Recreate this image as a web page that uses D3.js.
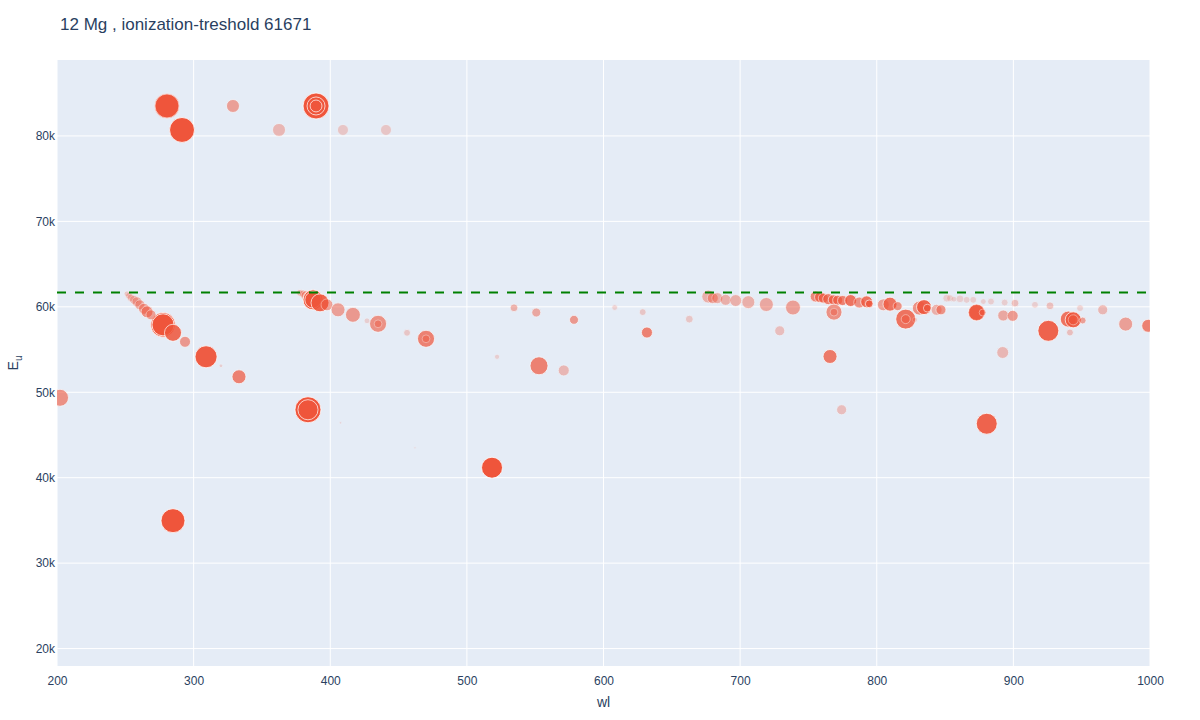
<!DOCTYPE html>
<html>
<head>
<meta charset="utf-8">
<script src="https://cdn.jsdelivr.net/npm/d3@7"></script>
<style>
  body { margin: 0; background: #fff; }
  text { font-family: "Liberation Sans", Arial, sans-serif; }
</style>
</head>
<body>
<svg id="chart" width="1200" height="720"></svg>
<script>
// lines: wavelength, upper level energy, strength, weight
var wl = [
  280.5, 280.5, 291.5, 328.8, 362.5, 389.6, 389.6, 389.6, 409.3, 440.8,
  202.2, 284.9, 277.6, 277.6, 284.9, 293.7, 309.1, 320.0, 333.2,
  251.2, 252.7, 254.2, 256.4, 258.6, 260.7, 263.7, 265.9, 268.8,
  383.7, 383.7, 407.5, 462.0,
  377.9, 380.1, 382.3, 385.2, 387.4, 387.4, 392.5, 397.6, 405.7, 416.6, 426.9, 435.0, 435.0, 456.2, 470.1, 470.1,
  534.5, 550.8, 578.4, 522.1, 552.8, 570.9, 608.2, 628.7, 631.8, 662.8, 518.4,
  676.7, 680.0, 683.3, 689.4, 696.8, 706.0, 719.2, 738.7, 729.0,
  755.3, 758.5, 760.9, 764.5, 768.2, 771.4, 775.0, 780.9, 787.2, 792.6, 794.5,
  768.7, 768.7, 765.8, 774.3,
  804.8, 809.7, 815.3, 821.2, 821.2, 828.0, 831.2, 834.6, 837.0, 843.8, 847.0,
  851.2, 853.6, 856.5, 860.9, 865.8, 870.6, 873.1, 873.1, 877.5, 878.0, 883.6, 880.5,
  892.2, 892.6, 899.5, 893.6, 901.2, 915.8, 926.8, 925.6, 941.4, 940.2, 943.8, 943.8, 950.7, 948.8,
  965.4, 982.2, 998.7
];
var eu = [
  83509, 83509, 80702, 83509, 80702, 83509, 83509, 83509, 80702, 80702,
  49356, 34970, 57894, 57894, 56959, 55906, 54152, 53100, 51813,
  61520, 61286, 61052, 60818, 60584, 60233, 59766, 59415, 59064,
  47953, 47953, 46430, 43500,
  61637, 61520, 61286, 61052, 60818, 60818, 60467, 60233, 59649, 59064, 58362, 58011, 58011, 56959, 56257, 56257,
  59883, 59333, 58479, 54152, 53100, 52555, 59918, 59380, 56994, 58561, 41170,
  61204, 61017, 61017, 60818, 60736, 60549, 60269, 59918, 57193,
  61204, 61134, 61017, 60900, 60818, 60780, 60736, 60736, 60502, 60585, 60350,
  59380, 59380, 54187, 47953,
  60233, 60315, 60081, 58561, 58561, 58479, 59848, 59964, 59848, 59649, 59649,
  61017, 61017, 60900, 60935, 60818, 60818, 59333, 59333, 59333, 60619, 60619, 46315,
  54655, 58982, 58947, 60502, 60432, 60233, 60117, 57193, 56994, 58561, 58479, 58479, 58401, 59848,
  59649, 57977, 57778
];
var strength = [
  85, 100, 92, 25, 25, 100, 48, 21, 18, 18,
  43, 85, 90, 72, 43, 18, 72, 2, 29,
  5, 7, 9, 12, 15, 15, 18, 21, 15,
  100, 60, 1, 1,
  7, 9, 15, 29, 59, 40, 48, 21, 29, 33, 5, 43, 9, 7, 43, 9,
  9, 12, 12, 4, 48, 18, 5, 7, 18, 9, 65,
  25, 18, 18, 18, 21, 25, 29, 33, 15,
  18, 18, 15, 18, 15, 15, 15, 21, 18, 21, 9,
  38, 9, 29, 15,
  21, 29, 12, 59, 12, 4, 29, 33, 9, 18, 15,
  9, 7, 5, 9, 7, 7, 38, 43, 7, 5, 7, 65,
  21, 18, 18, 7, 9, 7, 9, 65, 7, 38, 38, 15, 7, 7,
  15, 29, 25
];
var weight = [
  1, 0.25, 1, 0.5, 0.35, 1, 0.9, 0.9, 0.25, 0.25,
  0.6, 1, 1, 1, 0.85, 0.55, 0.95, 0.2, 0.7,
  0.25, 0.3, 0.3, 0.35, 0.4, 0.45, 0.5, 0.6, 0.5,
  1, 0.9, 0.15, 0.1,
  0.35, 0.4, 0.5, 0.7, 1, 0.9, 0.9, 0.5, 0.5, 0.55, 0.2, 0.6, 0.4, 0.25, 0.7, 0.4,
  0.4, 0.45, 0.55, 0.2, 0.7, 0.35, 0.2, 0.25, 0.7, 0.25, 1,
  0.4, 0.45, 0.4, 0.4, 0.4, 0.4, 0.45, 0.5, 0.3,
  0.65, 0.7, 0.65, 0.7, 0.7, 0.7, 0.7, 0.8, 0.6, 0.8, 0.8,
  0.6, 0.4, 0.75, 0.3,
  0.5, 0.8, 0.6, 0.8, 0.5, 0.2, 0.6, 0.9, 0.7, 0.4, 0.6,
  0.2, 0.2, 0.2, 0.2, 0.2, 0.2, 0.9, 0.5, 0.5, 0.2, 0.2, 0.9,
  0.35, 0.45, 0.55, 0.2, 0.3, 0.2, 0.3, 0.9, 0.3, 0.8, 0.9, 0.5, 0.5, 0.2,
  0.35, 0.5, 0.7
];
var xTicks = [200, 300, 400, 500, 600, 700, 800, 900, 1000];
var yTicks = [20000, 30000, 40000, 50000, 60000, 70000, 80000];
var threshold = 61671;
var title = "12 Mg , ionization-treshold 61671";

var svg = d3.select("#chart");
var margin = { left: 57, right: 50, top: 60, bottom: 54 };
var width = 1200 - margin.left - margin.right;
var height = 720 - margin.top - margin.bottom;

var x = d3.scaleLinear().domain([200, 1000]).range([0, width]);
var y = d3.scaleLinear().domain([17960, 88890]).range([height, 0]);
var r = d3.scaleSqrt().domain([0, 100]).range([0, 13]);
var op = d3.scaleLinear().domain([0, 1]).range([0, 1]);

var g = svg.append("g").attr("transform", "translate(" + margin.left + "," + margin.top + ")");

g.append("rect").attr("width", width).attr("height", height).attr("fill", "#E5ECF6");

// grid
g.append("g")
  .selectAll("line")
  .data(xTicks)
  .enter()
  .append("line")
  .attr("x1", (d) => x(d)).attr("x2", (d) => x(d))
  .attr("y1", 0).attr("y2", height)
  .attr("stroke", "#fff").attr("stroke-width", 1);

g.append("g")
  .selectAll("line")
  .data(yTicks)
  .enter()
  .append("line")
  .attr("x1", 0).attr("x2", width)
  .attr("y1", (d) => y(d)).attr("y2", (d) => y(d))
  .attr("stroke", "#fff").attr("stroke-width", 1);

// axes (labels only, like plotly)
var xAxis = g.append("g")
  .attr("transform", "translate(0," + height + ")")
  .call(d3.axisBottom(x).tickValues(xTicks).tickSize(0).tickPadding(10).tickFormat(d3.format("d")));
var yAxis = g.append("g")
  .call(d3.axisLeft(y).tickValues(yTicks).tickSize(0).tickPadding(2).tickFormat((d) => d / 1000 + "k"));
[xAxis, yAxis].forEach(function (a) {
  a.select(".domain").remove();
  a.selectAll("text").attr("fill", "#2a3f5f").style("font-size", "12px")
    .style("font-family", '"Liberation Sans", Arial, sans-serif');
});

// points
var points = wl.map(function (d, i) {
  return { wl: d, eu: eu[i], s: strength[i], w: weight[i] };
});

var plot = g.append("g");
plot.append("clipPath").attr("id", "clip")
  .append("rect").attr("width", width).attr("height", height);

plot.append("g")
  .attr("clip-path", "url(#clip)")
  .selectAll("circle")
  .data(points)
  .enter()
  .append("circle")
  .attr("cx", (d) => x(d.wl))
  .attr("cy", (d) => y(d.eu))
  .attr("r", (d) => r(d.s))
  .attr("fill", "#EF553B")
  .attr("stroke", "#fff")
  .attr("stroke-width", 0.8)
  .attr("opacity", (d) => op(d.w));

// ionization threshold
g.append("line")
  .attr("x1", 0).attr("x2", width)
  .attr("y1", y(threshold)).attr("y2", y(threshold))
  .attr("stroke", "green")
  .attr("stroke-width", 2)
  .attr("stroke-dasharray", "9,9");

// titles
svg.append("text")
  .attr("x", 60).attr("y", 30)
  .attr("fill", "#2a3f5f")
  .style("font-size", "17px")
  .text(title);

svg.append("text")
  .attr("x", margin.left + width / 2).attr("y", 707)
  .attr("text-anchor", "middle")
  .attr("fill", "#2a3f5f")
  .style("font-size", "14px")
  .text("wl");

var yt = svg.append("text")
  .attr("transform", "translate(18," + (margin.top + height / 2) + ") rotate(-90)")
  .attr("text-anchor", "middle")
  .attr("fill", "#2a3f5f")
  .style("font-size", "14px");
yt.append("tspan").text("E");
yt.append("tspan").attr("dy", 4).style("font-size", "10px").text("u");
</script>
</body>
</html>
